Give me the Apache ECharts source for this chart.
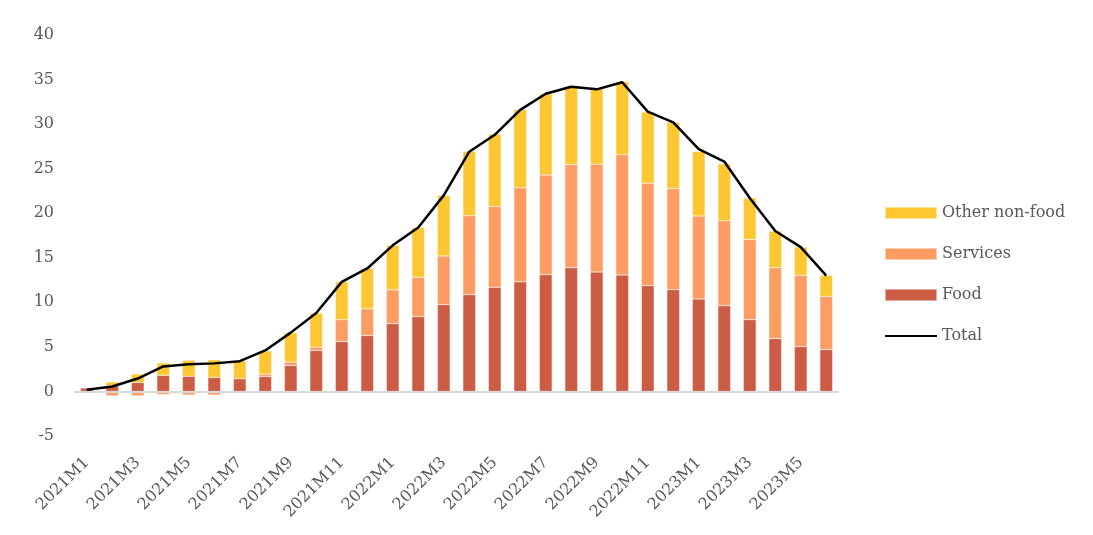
<!DOCTYPE html>
<html>
<head>
<meta charset="utf-8">
<script src="https://cdn.jsdelivr.net/npm/echarts@6/dist/echarts.min.js"></script>
<style>
  html, body {margin: 0; padding: 0; background: #fff;}
  #chart {width: 1093px; height: 535px;}
</style>
</head>
<body>
<div id="chart"></div>
<script>
  // 月份
  let months = ['2021M1','2021M2','2021M3','2021M4','2021M5','2021M6','2021M7','2021M8','2021M9','2021M10','2021M11','2021M12',
                '2022M1','2022M2','2022M3','2022M4','2022M5','2022M6','2022M7','2022M8','2022M9','2022M10','2022M11','2022M12',
                '2023M1','2023M2','2023M3','2023M4','2023M5','2023M6']
  // 各分项贡献
  let food = [0.38, 0.63, 1.0, 1.8, 1.7, 1.57, 1.42, 1.68, 2.9, 4.6, 5.6, 6.27,
              7.6, 8.4, 9.75, 10.86, 11.7, 12.3, 13.1, 13.9, 13.4, 13.07, 11.87, 11.42,
              10.38, 9.63, 8.06, 5.93, 5.04, 4.7]
  let services = [-0.2, -0.5, -0.5, -0.35, -0.4, -0.4, -0.1, 0.27, 0.4, 0.37, 2.45, 3.0,
                  3.8, 4.4, 5.45, 8.85, 9.06, 10.55, 11.2, 11.56, 12.1, 13.5, 11.5, 11.36,
                  9.3, 9.52, 9.0, 7.96, 8.0, 5.98]
  let other = [0.0, 0.42, 0.95, 1.4, 1.8, 1.98, 2.05, 2.6, 3.3, 3.8, 4.25, 4.55,
               5.0, 5.6, 6.8, 7.25, 8.1, 8.8, 9.1, 8.8, 8.47, 8.2, 8.0, 7.42,
               7.25, 6.38, 4.64, 4.11, 3.17, 2.35]
  let total = [0.2, 0.55, 1.45, 2.8, 3.05, 3.15, 3.4, 4.6, 6.6, 8.8, 12.3, 13.8,
               16.4, 18.4, 22.0, 26.9, 28.8, 31.6, 33.4, 34.2, 33.9, 34.7, 31.4, 30.2,
               27.2, 25.8, 21.7, 18.0, 16.2, 13.0]

  let font = 'DejaVu Serif'
  let textColor = '#595959'

  let myChart = echarts.init(document.getElementById('chart'), null, {renderer: 'canvas'})

  let barStyle = (color) => ({
    color: color,
    borderColor: 'rgba(255,255,255,0.5)',
    borderWidth: 0.5
  })

  let option = {
    animation: false,
    textStyle: {fontFamily: font},
    grid: {
      top: 35,
      bottom: 99,
      left: 74,
      right: 254
    },
    legend: {
      orient: 'vertical',
      left: 884,
      top: 205,
      padding: 0,
      itemWidth: 52,
      itemHeight: 12,
      itemGap: 25,
      data: [
        {name: 'Other non-food', icon: 'rect'},
        {name: 'Services', icon: 'rect'},
        {name: 'Food', icon: 'rect'},
        {name: 'Total', itemStyle: {opacity: 0}} // 只显示线，不要圆点
      ],
      textStyle: {fontFamily: font, fontSize: 16, color: textColor}
    },
    xAxis: {
      type: 'category',
      data: months,
      axisLine: {show: false},
      axisTick: {show: false},
      axisLabel: {
        interval: 1,
        rotate: 45,
        margin: 24,
        fontFamily: font,
        fontSize: 16,
        color: textColor
      }
    },
    yAxis: {
      type: 'value',
      min: -5,
      max: 40,
      interval: 5,
      splitLine: {show: false},
      axisLine: {show: false},
      axisTick: {show: false},
      axisLabel: {
        margin: 20,
        fontFamily: font,
        fontSize: 16,
        color: textColor
      }
    },
    series: [
      {
        name: 'Food',
        type: 'bar',
        stack: 'c',
        barWidth: '50%',
        data: food,
        itemStyle: barStyle('#CD5C45')
      },
      {
        name: 'Services',
        type: 'bar',
        stack: 'c',
        data: services,
        itemStyle: barStyle('#FD9C63')
      },
      {
        name: 'Other non-food',
        type: 'bar',
        stack: 'c',
        data: other,
        itemStyle: barStyle('#FDC731')
      },
      {
        name: 'Total',
        type: 'line',
        data: total,
        symbol: 'none',
        z: 5,
        lineStyle: {color: '#000', width: 2.5},
        itemStyle: {color: '#000'},
        // 零值横线
        markLine: {
          silent: true,
          symbol: 'none',
          label: {show: false},
          lineStyle: {color: '#d9d9d9', width: 2, type: 'solid'},
          data: [{yAxis: 0}]
        }
      }
    ]
  }
  myChart.setOption(option)
  window.addEventListener('resize', myChart.resize)
</script>
</body>
</html>
